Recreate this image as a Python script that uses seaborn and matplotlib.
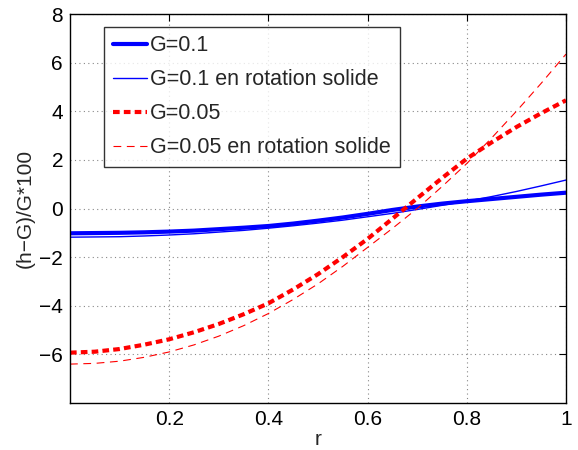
import matplotlib
matplotlib.use("Agg")
import matplotlib.pyplot as plt
import seaborn as sns
import pandas as pd

r = [0.0, 0.05, 0.1, 0.15, 0.2, 0.25, 0.3, 0.35, 0.4, 0.45, 0.5,
     0.55, 0.6, 0.65, 0.7, 0.75, 0.8, 0.85, 0.9, 0.95, 1.0]
g01 = [-1.02, -1.01, -1.00, -0.98, -0.95, -0.91, -0.85, -0.79, -0.72, -0.62, -0.50,
       -0.37, -0.22, -0.06, 0.08, 0.20, 0.30, 0.39, 0.48, 0.57, 0.65]
g01_solid = [-1.18, -1.17, -1.16, -1.13, -1.09, -1.04, -0.97, -0.90, -0.81, -0.71, -0.60,
             -0.48, -0.34, -0.20, -0.04, 0.13, 0.30, 0.49, 0.70, 0.93, 1.17]
g005 = [-5.93, -5.89, -5.78, -5.60, -5.38, -5.09, -4.75, -4.35, -3.90, -3.33, -2.70,
        -2.00, -1.25, -0.42, 0.42, 1.25, 2.05, 2.72, 3.35, 3.92, 4.45]
g005_solid = [-6.40, -6.37, -6.28, -6.12, -5.90, -5.61, -5.25, -4.82, -4.32, -3.74, -3.10,
              -2.38, -1.60, -0.82, 0.00, 0.90, 1.85, 2.90, 4.00, 5.15, 6.35]

labels = ["G=0.1", "G=0.1 en rotation solide", "G=0.05", "G=0.05 en rotation solide"]
series = [g01, g01_solid, g005, g005_solid]
colors = ["#0000ff", "#0000ff", "#ff0000", "#ff0000"]
widths = [3.0, 1.0, 3.0, 0.8]
dashes = [None, None, (1.6, 1.0), (7, 5)]

x_ticks = [0.2, 0.4, 0.6, 0.8, 1.0]
x_ticklabels = ["0.2", "0.4", "0.6", "0.8", "1"]
y_ticks = [-6, -4, -2, 0, 2, 4, 6, 8]

sns.set_style("white")
plt.rcParams['font.family'] = ['Liberation Sans', 'DejaVu Sans']
plt.rcParams['axes.unicode_minus'] = True

fig = plt.figure(figsize=(5.78, 4.5), dpi=100)
ax = fig.add_axes([70 / 578, 1 - 403 / 450, 496 / 578, 389 / 450])

for lab, vals, c, w, d in zip(labels, series, colors, widths, dashes):
    df = pd.DataFrame({"r": r, "v": vals})
    sns.lineplot(data=df, x="r", y="v", ax=ax, color=c, linewidth=w, label=lab)
    l = ax.get_lines()[-1]
    if d is not None:
        l.set_dashes(d)

ax.set_xlim(0, 1)
ax.set_ylim(-8, 8)
ax.set_xticks(x_ticks)
ax.set_xticklabels(x_ticklabels)
ax.set_yticks(y_ticks)
ax.grid(True, color="#888888", linestyle=(0, (1, 3)), linewidth=0.8)
ax.tick_params(direction="in", length=5, width=0.8, top=True, right=True,
               labelsize=15, colors="black", pad=5)
for s in ax.spines.values():
    s.set_visible(True)
    s.set_color("black")
    s.set_linewidth(1.0)
ax.set_xlabel("r", fontsize=15, labelpad=1)
ax.set_ylabel("(h\u2212G)/G*100", fontsize=15, labelpad=3)

leg = ax.legend(loc="upper left", bbox_to_anchor=(0.0685, 0.967), borderaxespad=0,
                fontsize=15.5, frameon=True, fancybox=False, edgecolor="black",
                handlelength=1.6, handletextpad=0.15, labelspacing=0.6,
                borderpad=0.4)
leg.get_frame().set_linewidth(1.0)

fig.savefig("out.png", dpi=100)
